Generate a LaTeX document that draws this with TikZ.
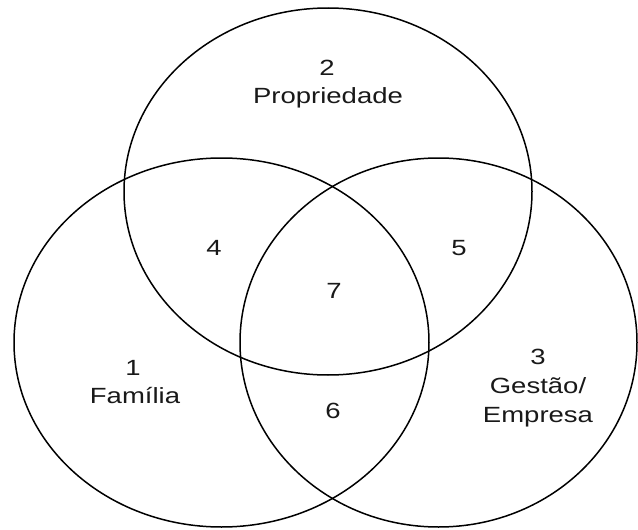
\documentclass[tikz,border=0pt]{standalone}
\usepackage{fontspec}
\setmainfont{Liberation Sans}[FakeStretch=1.25]
\begin{document}
\begin{tikzpicture}[x=1pt,y=-1pt,
  ring/.style={draw=black,line width=1.5pt},
  lbl/.style={anchor=base,inner sep=0pt,text=black!90,font=\fontsize{22}{29}\selectfont}]
\useasboundingbox[fill=white] (0,0) rectangle (638,530);
% ellipses
\draw[ring] (328,191.5) ellipse [x radius=204,y radius=183.5];
\draw[ring] (221.5,342.5) ellipse [x radius=207.5,y radius=184.5];
\draw[ring] (438.5,342.5) ellipse [x radius=198.5,y radius=184.5];
% labels
\node[lbl] (n2) at (327,75) {2};
\node[lbl] (prop) at (328,103) {Propriedade};
\node[lbl] (n4) at (214,255) {4};
\node[lbl] (n5) at (459,255) {5};
\node[lbl] (n7) at (334,298) {7};
\node[lbl] (n1) at (133,375) {1};
\node[lbl] (fam) at (135,403) {Família};
\node[lbl] (n3) at (538,364) {3};
\node[lbl] (gest) at (538,393) {Gestão/};
\node[lbl] (emp) at (538,422) {Empresa};
\node[lbl] (n6) at (333,418) {6};
\end{tikzpicture}
\end{document}
